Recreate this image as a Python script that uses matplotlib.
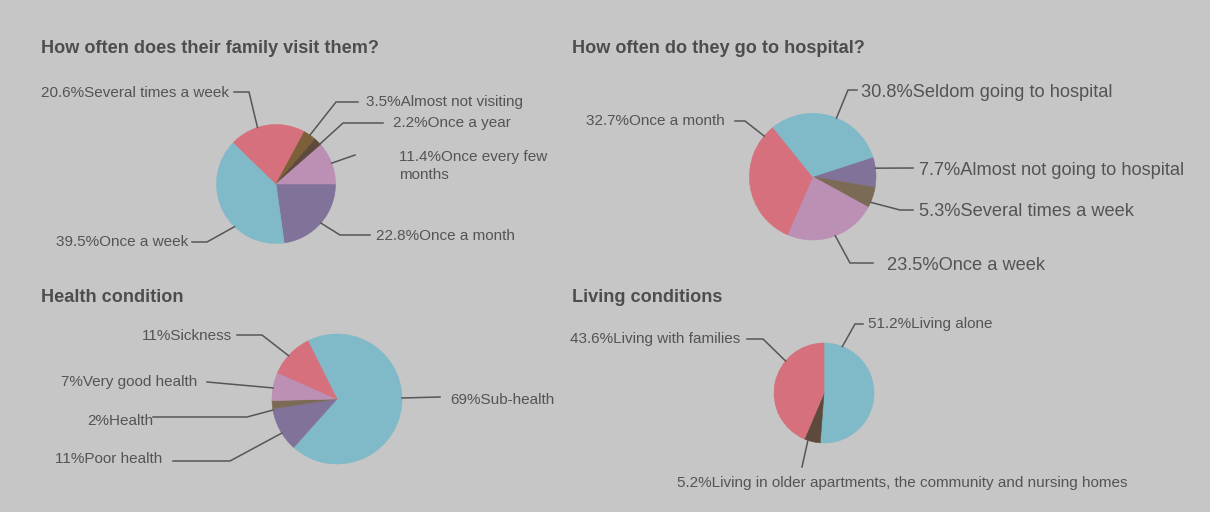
import matplotlib
matplotlib.use('Agg')
import matplotlib.pyplot as plt
import numpy as np

plt.rcParams['font.family'] = ['Liberation Sans', 'DejaVu Sans']

W, H = 1210, 512
BG = '#c5c6c5'
TXT = '#545454'
LINE = '#565656'

blue = '#80b9c7'
red = '#d5707c'
purple = '#81729a'
pink = '#bc8fb5'
brown = '#7d5f3a'
darkbrown = '#5d4a3c'
greybrown = '#7b6a55'

# data (in drawing order, clockwise)
family_labels = ['Once a month', 'Once a week', 'Several times a week',
                 'Almost not visiting', 'Once a year', 'Once every few\nmonths']
family_values = [22.8, 39.5, 20.6, 3.5, 2.2, 11.4]
family_colors = [purple, blue, red, brown, darkbrown, pink]

hospital_labels = ['Almost not going to hospital', 'Several times a week',
                   'Once a week', 'Once a month', 'Seldom going to hospital']
hospital_values = [7.7, 5.3, 23.5, 32.7, 30.8]
hospital_colors = [purple, greybrown, pink, red, blue]

health_labels = ['Sub-health', 'Poor health', 'Health', 'Very good health', 'Sickness']
health_values = [69, 11, 2, 7, 11]
health_colors = [blue, purple, greybrown, pink, red]

living_labels = ['Living alone',
                 'Living in older apartments, the community and nursing homes',
                 'Living with families']
living_values = [51.2, 5.2, 43.6]
living_colors = [blue, darkbrown, red]

titles = ['How often does their family visit them?', 'How often do they go to hospital?',
          'Health condition', 'Living conditions']


def P(x, y):
    # screen pixel (top-down) -> axes coords
    return x, H - y


SM, LG = 15.3, 18.3  # label sizes in px

# label layout: angle shift, leader path, text pos (cap centre), align, size px
family_layout = [
    (0, [(340, 235), (370, 235)], (376, 235), 'left', SM),
    (19, [(207, 242), (192, 242)], (188, 241), 'right', SM),
    (9.5, [(249, 92), (234, 92)], (229, 92), 'right', SM),
    (0, [(336, 102), (358, 102)], (366, 101), 'left', SM),
    (-2.7, [(343, 123), (383, 123)], (393, 122), 'left', SM),
    (0, [(355, 155)], (399, 156), 'left', SM),
]
hospital_layout = [
    (3.6, [(913, 168)], (919, 168), 'left', LG),
    (-4.6, [(900, 210), (913, 210)], (919, 209.5), 'left', LG),
    (2, [(850, 263), (873, 263)], (887, 263.3), 'left', LG),
    (-47.7, [(745, 121), (735, 121)], (725, 120), 'right', SM),
    (-5.5, [(848, 90), (857, 90)], (861, 90), 'left', LG),
]
health_layout = [
    (8.5, [(440, 397)], (450, 398.5), 'left', SM),
    (3.3, [(230, 461), (173, 461)], (162, 457.5), 'right', SM),
    (4.8, [(247, 417), (153, 417)], (153, 419.5), 'right', SM),
    (1.4, [(207, 382)], (197, 381), 'right', SM),
    (1.8, [(262, 335), (237, 335)], (232, 335), 'right', SM),
]
living_layout = [
    (70.6, [(855, 324), (863, 324)], (868, 323), 'left', SM),
    (-5.1, [(802, 467)], (677, 482), 'left', SM),
    (-28.3, [(763, 339), (747, 339)], (740, 338), 'right', SM),
]

charts = [
    (family_labels, family_values, family_colors, family_layout, (276, 184), 59.5, 0),
    (hospital_labels, hospital_values, hospital_colors, hospital_layout, (812.7, 176.7), 63.3, 18),
    (health_labels, health_values, health_colors, health_layout, (337, 399), 65, 116.6),
    (living_labels, living_values, living_colors, living_layout, (824, 393), 50, 90),
]

fig = plt.figure(figsize=(W / 100, H / 100), dpi=100, facecolor=BG)
ax = fig.add_axes([0, 0, 1, 1])
ax.set_facecolor(BG)

for labels, values, colors, layout, c, r, sa in charts:
    cx, cy = P(*c)
    wedges, _ = ax.pie(values, colors=colors, startangle=sa, counterclock=False,
                       center=(cx, cy), radius=r, wedgeprops=dict(linewidth=0.4))
    for w in wedges:
        w.set_edgecolor(w.get_facecolor())
    for w, lab, v, (dang, path, tpos, ha, size) in zip(wedges, labels, values, layout):
        ang = np.deg2rad((w.theta1 + w.theta2) / 2 + dang)
        xs = [cx + r * np.cos(ang)] + [P(*p)[0] for p in path]
        ys = [cy + r * np.sin(ang)] + [P(*p)[1] for p in path]
        ax.plot(xs, ys, color=LINE, lw=1.1, solid_joinstyle='miter')
        text = f'{v}%{lab}'
        for i, line in enumerate(text.split('\n')):
            tx, ty = P(tpos[0], tpos[1] + i * 18 + 0.358 * size)
            ax.text(tx, ty, line, ha=ha, va='baseline', fontsize=size * 0.72, color=TXT)

title_pos = [(41, 46.7), (572.5, 46.7), (41, 295.7), (572.5, 295.7)]
for t, (x, y) in zip(titles, title_pos):
    tx, ty = P(x, y + 0.358 * 18.2)
    ax.text(tx, ty, t, ha='left', va='baseline', fontsize=18.2 * 0.72,
            fontweight='bold', color='#4d4d4d')

ax.set_xlim(0, W)
ax.set_ylim(0, H)
ax.set_aspect('auto')
ax.axis('off')
fig.savefig('out.png', dpi=100, facecolor=BG)
